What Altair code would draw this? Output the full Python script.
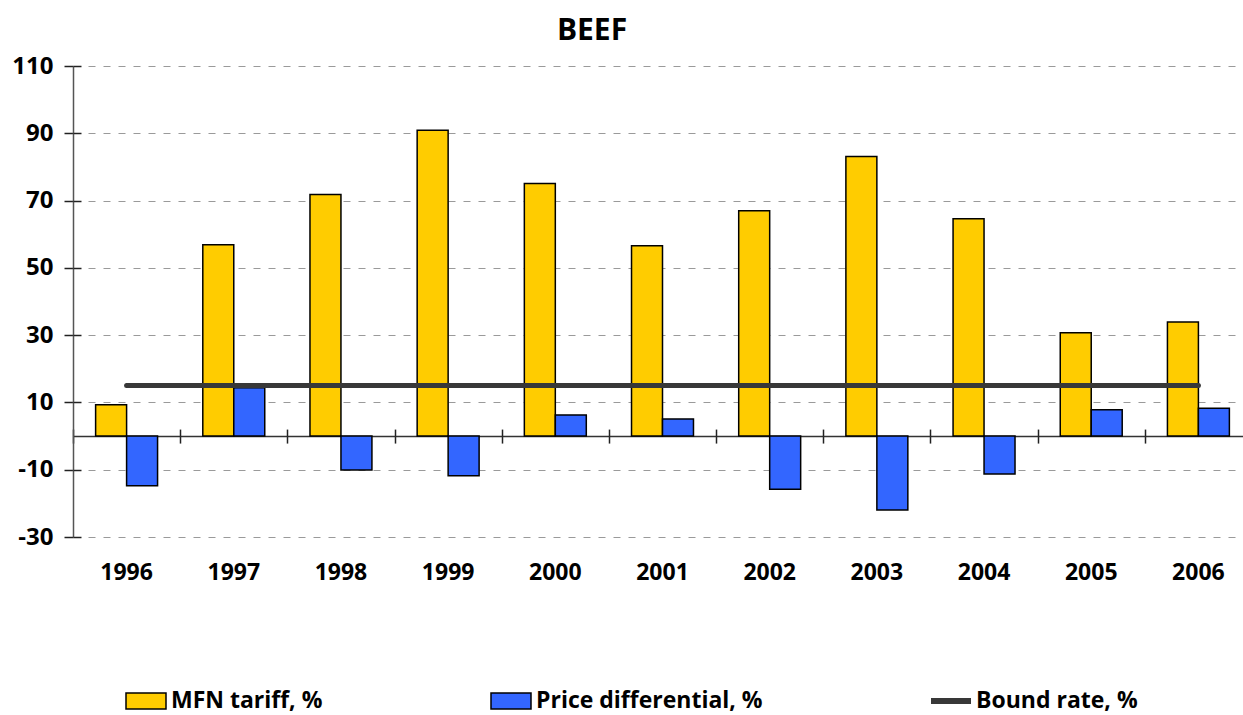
import altair as alt
import pandas as pd

years = ["1996", "1997", "1998", "1999", "2000", "2001", "2002", "2003", "2004", "2005", "2006"]
mfn_tariff = [9.3, 56.9, 71.8, 90.9, 75.1, 56.6, 67.0, 83.1, 64.6, 30.7, 33.9]
price_diff = [-14.8, 14.4, -10.1, -11.8, 6.3, 5.1, -15.8, -22.0, -11.3, 7.8, 8.3]
bound_rate = [15] * len(years)

series_names = ["MFN tariff, %", "Price differential, %"]
series_colors = ["#FFCC00", "#3366FF"]
line_name = "Bound rate, %"
y_ticks = [-30, -10, 10, 30, 50, 70, 90, 110]

FONT = "Open Sans"
W, H = 1170, 471
Y_MIN, Y_MAX = -30, 110
zero_px = H * Y_MAX / (Y_MAX - Y_MIN)

bars_df = pd.DataFrame(
    {
        "year": years * 2,
        "series": [series_names[0]] * len(years) + [series_names[1]] * len(years),
        "value": mfn_tariff + price_diff,
    }
)
line_df = pd.DataFrame({"year": years, "value": bound_rate, "series": line_name})

x_scale = alt.Scale(domain=years, range=[0, 1179], paddingInner=0, paddingOuter=0)
y_scale = alt.Scale(domain=[Y_MIN, Y_MAX], nice=False, zero=False)

bars = alt.Chart(bars_df).mark_bar(stroke="black", strokeWidth=1.5).encode(
    x=alt.X(
        "year:N",
        scale=x_scale,
        sort=years,
        title=None,
        axis=alt.Axis(
            orient="bottom",
            domain=False,
            ticks=False,
            labelAngle=0,
            labelPadding=24,
            labelFontSize=23,
            labelFont=FONT,
            labelFontWeight="bold",
            labelColor="black",
        ),
    ),
    xOffset=alt.XOffset(
        "series:N",
        sort=series_names,
        scale=alt.Scale(domain=series_names, paddingInner=0, paddingOuter=0.73),
    ),
    y=alt.Y(
        "value:Q",
        scale=y_scale,
        title=None,
        axis=alt.Axis(
            orient="left",
            values=y_ticks,
            labelExpr="'' + datum.value",
            grid=True,
            gridColor="#9a9a9a",
            gridDash=[7, 8],
            gridWidth=1.2,
            domain=True,
            domainColor="#555555",
            domainWidth=1.5,
            ticks=True,
            tickSize=9,
            tickColor="#222222",
            tickWidth=1.5,
            labelPadding=11,
            labelFontSize=24,
            labelFont=FONT,
            labelFontWeight="bold",
            labelColor="black",
        ),
    ),
    fill=alt.Fill(
        "series:N",
        scale=alt.Scale(domain=series_names, range=series_colors),
        legend=alt.Legend(
            orient="none",
            legendX=52,
            legendY=614,
            direction="horizontal",
            columns=2,
            title=None,
            symbolType="M-1,-0.4H1V0.4H-1Z",
            symbolSize=1600,
            symbolStrokeColor="black",
            symbolStrokeWidth=1.5,
            symbolOpacity=1,
            labelFontSize=23,
            labelFont=FONT,
            labelFontWeight="bold",
            labelColor="black",
            labelOffset=4,
            labelLimit=400,
            columnPadding=165,
        ),
    ),
)

bound_line = alt.Chart(line_df).mark_line(strokeWidth=5, strokeCap="round").encode(
    x=alt.X(
        "year:N",
        scale=x_scale,
        sort=years,
        title=None,
        axis=alt.Axis(
            orient="bottom",
            offset=-(H - zero_px),
            labels=False,
            domain=True,
            domainColor="#333333",
            domainWidth=1.5,
            ticks=True,
            tickBand="extent",
            tickSize=7,
            tickColor="#222222",
            tickWidth=1.5,
        ),
    ),
    y=alt.Y(
        "value:Q",
        scale=y_scale,
        title=None,
        axis=alt.Axis(
            orient="right",
            offset=-W,
            values=y_ticks,
            labels=False,
            domain=False,
            grid=False,
            ticks=True,
            tickSize=8,
            tickColor="#222222",
            tickWidth=1.5,
        ),
    ),
    stroke=alt.Stroke(
        "series:N",
        scale=alt.Scale(domain=[line_name], range=["#383838"]),
        legend=alt.Legend(
            orient="none",
            legendX=855,
            legendY=612,
            title=None,
            symbolType="stroke",
            symbolSize=1600,
            symbolStrokeWidth=6,
            labelFontSize=23,
            labelFont=FONT,
            labelFontWeight="bold",
            labelColor="black",
            labelOffset=2,
            labelLimit=400,
        ),
    ),
)

# invisible layer carrying the upper half of the category ticks on the zero line
upper_ticks = alt.Chart(line_df).mark_point(opacity=0).encode(
    x=alt.X(
        "year:N",
        scale=x_scale,
        sort=years,
        title=None,
        axis=alt.Axis(
            orient="top",
            offset=-zero_px,
            labels=False,
            domain=False,
            ticks=True,
            tickBand="extent",
            tickSize=7,
            tickColor="#222222",
            tickWidth=1.5,
        ),
    ),
    y=alt.Y("value:Q", scale=y_scale, axis=None),
)

chart = (
    alt.layer(bars, bound_line, upper_ticks)
    .resolve_axis(x="independent", y="independent")
    .resolve_legend(fill="independent", stroke="independent")
    .properties(
        width=W,
        height=H,
        title=alt.TitleParams(
            "BEEF",
            fontSize=30,
            font=FONT,
            fontWeight="bold",
            color="black",
            anchor="middle",
            dx=-66,
            offset=8,
        ),
        autosize=alt.AutoSizeParams(type="none"),
        padding={"left": 73, "top": 66, "right": 0, "bottom": 178},
        background="white",
    )
    .configure_view(stroke=None)
)

chart.save("out.html", embed_options={"renderer": "svg", "actions": False})
